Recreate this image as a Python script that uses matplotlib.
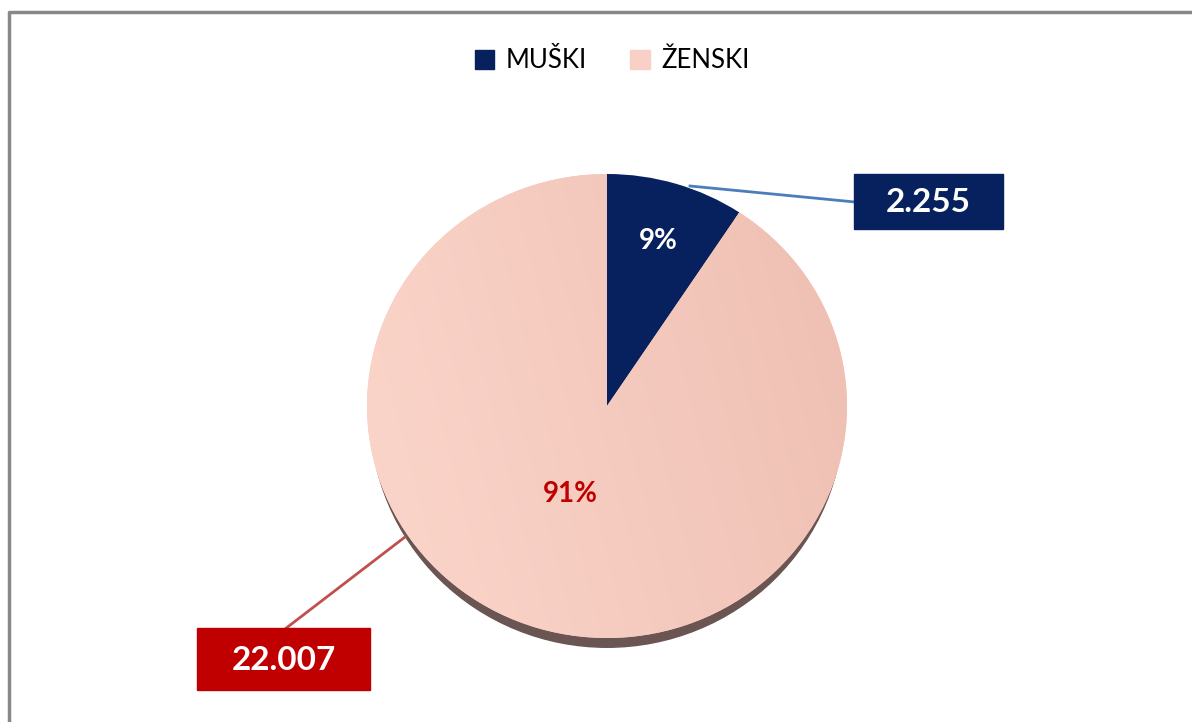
import numpy as np
import matplotlib.pyplot as plt
from matplotlib.patches import Patch, Rectangle, Ellipse
from matplotlib.colors import LinearSegmentedColormap

plt.rcParams['font.family'] = ['Lato', 'DejaVu Sans']

# podaci
labels = ["MUŠKI", "ŽENSKI"]
values = [2255, 22007]
slice_colors = ["#06215E", "#F7CBBF"]
box_colors = ["#06215E", "#C00000"]
pct_colors = ["white", "#C00000"]

W, H = 1192, 722
fig = plt.figure(figsize=(W / 100, H / 100), dpi=100)

# pita u vlastitim osima (blago spljoštena)
px, py, pw, ph = 367, 174, 480, 464
pie_ax = fig.add_axes([px / W, 1 - (py + ph) / H, pw / W, ph / H])
pie_ax.add_patch(Ellipse((0, -0.04), 1.97, 2.0, color="#6B5553", zorder=0, clip_on=False))
wedges, _ = pie_ax.pie(values, colors=slice_colors, startangle=90,
                       counterclock=False, radius=1.0, frame=True)
for w in wedges:
    w.set_clip_on(False)
pie_ax.set_aspect("auto")
pie_ax.set_xlim(-1, 1)
pie_ax.set_ylim(-1, 1)
pie_ax.axis("off")

# blagi gradijent na većem dijelu
grad = np.linspace(0, 1, 200)
gx, gy = np.meshgrid(grad, grad)
cmap = LinearSegmentedColormap.from_list("roza", ["#FCD6CB", "#EEBFB2"])
img = pie_ax.imshow(gx * 0.8 + (1 - gy) * 0.2, cmap=cmap, extent=(-1, 1, -1, 1),
                    origin="upper", zorder=2, aspect="auto")
img.set_clip_path(wedges[1])

# gornje osi u pikselima (okvir, kutije, linije, tekst)
bg = fig.add_axes([0, 0, 1, 1])
bg.set_xlim(0, W)
bg.set_ylim(H, 0)
bg.axis("off")
bg.patch.set_alpha(0)
bg.plot([8.5, 8.5, W], [H, 12, 12], color="#888888", lw=2.5, solid_capstyle="butt")

# postotci
total = sum(values)
pcts = [f"{round(v / total * 100)}%" for v in values]
pct_pos = [(658, 241), (570, 494)]
for (x, y), t, c in zip(pct_pos, pcts, pct_colors):
    bg.text(x, y, t, color=c, fontsize=20, fontweight="bold",
            ha="center", va="center", zorder=5)

# oznake vrijednosti u kutijama
boxes = [(854, 174, 149, 55), (197, 628, 173, 62)]
lines = [((690, 855), (186, 202), "#4A7EBB"), ((405, 285), (537, 629), "#C0504D")]
for (bx, by, bw, bh), v, c, (lx, ly, lc) in zip(boxes, values, box_colors, lines):
    bg.plot(lx, ly, color=lc, lw=2, zorder=3)
    bg.add_patch(Rectangle((bx, by), bw, bh, color=c, zorder=4))
    bg.text(bx + bw / 2, by + bh / 2 + 1, f"{v:,}".replace(",", "."), color="white",
            fontsize=24, fontweight="bold", ha="center", va="center", zorder=5)

# legenda
handles = [Patch(color=c) for c in ["#06215E", "#F9D0C5"]]
fig.legend(handles, labels, loc="center", bbox_to_anchor=(612 / W, 1 - 61 / H),
           ncol=2, frameon=False, fontsize=18.5, handlelength=0.75, handleheight=0.75,
           handletextpad=0.45, columnspacing=1.7)

fig.savefig("out.png", dpi=100)
